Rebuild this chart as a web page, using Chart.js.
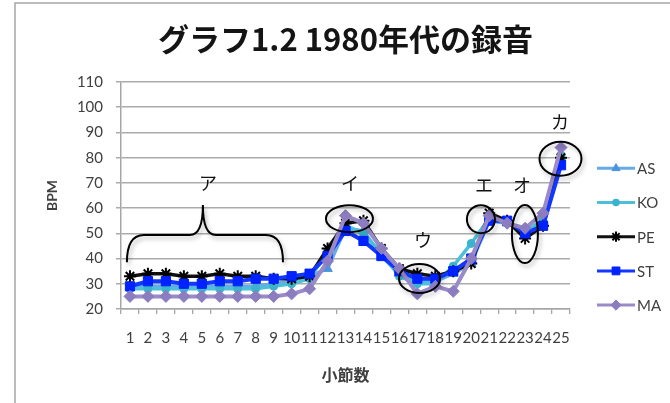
<!DOCTYPE html>
<html>
<head>
<meta charset="utf-8">
<script src="https://cdn.jsdelivr.net/npm/chart.js@4.4.1/dist/chart.umd.min.js"></script>
<style>
  html, body { margin: 0; padding: 0; background: #fff; }
  canvas { display: block; }
</style>
</head>
<body>
<canvas id="c" width="670" height="403"></canvas>
<script>
// 小節番号
const measures = ['1','2','3','4','5','6','7','8','9','10','11','12','13','14','15','16','17','18','19','20','21','22','23','24','25'];

// 各演奏のテンポ (BPM)
const AS = [29, 29, 29, 29, 29, 29, 29, 29, 30, 31, 33, 36, 52, 51, 41, 34, 31, 31, 34, 38, 55, 54, 51, 55, 80];
const KO = [28, 28, 28, 28, 28, 28, 28, 28, 29, 30, 32, 43, 53, 50, 42, 33, 30, 30, 37, 46, 56, 54, 51, 55, 81];
const PE = [33, 34, 34, 33, 33, 34, 33, 33, 32, 32, 33, 44, 54, 55, 44, 36, 34, 33, 35, 38, 58, 55, 48, 53, 80];
const ST = [29, 31, 31, 30, 30, 31, 31, 32, 32, 33, 34, 41, 51, 47, 41, 35, 32, 32, 35, 40, 55, 55, 50, 53, 77];
const MA = [25, 25, 25, 25, 25, 25, 25, 25, 25, 26, 28, 39, 57, 54, 44, 36, 26, 29, 27, 40, 57, 54, 52, 58, 84];

// 縦軸の目盛り
const yMin = 20, yMax = 110, yStep = 10;

const LATIN = 'Lato, "Noto Sans CJK JP", sans-serif';
const CJK = '"Noto Sans CJK JP", sans-serif';

// 注記 (小節インデックス, BPM)
const notes = [
  { text: 'ア', x: 4.34, y: 69.9 },
  { text: 'イ', x: 12.25, y: 69.9 },
  { text: 'ウ', x: 16.31, y: 47.3 },
  { text: 'エ', x: 19.71, y: 69.1 },
  { text: 'オ', x: 21.83, y: 69.1 },
  { text: 'カ', x: 23.95, y: 94.0 }
];
const rings = [
  { x: 12.22, y: 55.8, rx: 23.5, ry: 13.5 },
  { x: 16.12, y: 32.1, rx: 20.5, ry: 14.5 },
  { x: 19.54, y: 55.6, rx: 14, ry: 14 },
  { x: 21.99, y: 49.7, rx: 13, ry: 29 },
  { x: 23.97, y: 79.6, rx: 21, ry: 17 }
];
const brace = { from: -0.17, to: 8.52, tip: 4.06, foot: 38.5, bar: 49.3, peak: 61.2 };

// 背景と枠
const framePlugin = {
  id: 'frame',
  beforeDraw(chart) {
    const ctx = chart.ctx;
    ctx.save();
    ctx.fillStyle = '#ffffff';
    ctx.fillRect(0, 0, chart.width, chart.height);
    ctx.strokeStyle = '#a6a6a6';
    ctx.lineWidth = 1.5;
    ctx.beginPath();
    ctx.moveTo(15, chart.height);
    ctx.lineTo(15, 3);
    ctx.lineTo(chart.width, 3);
    ctx.stroke();
    ctx.restore();
  }
};

// 丸囲み・括弧・カタカナ注記
const notePlugin = {
  id: 'notes',
  afterDatasetsDraw(chart) {
    const ctx = chart.ctx;
    const xs = chart.scales.x, ys = chart.scales.y;
    const px = v => xs.getPixelForValue(v);
    const py = v => ys.getPixelForValue(v);
    ctx.save();
    ctx.strokeStyle = '#000';
    ctx.lineWidth = 2;
    ctx.shadowColor = 'rgba(0,0,0,0.28)';
    ctx.shadowBlur = 4;
    ctx.shadowOffsetX = 2;
    ctx.shadowOffsetY = 3;
    rings.forEach(r => {
      ctx.beginPath();
      ctx.ellipse(px(r.x), py(r.y), r.rx, r.ry, 0, 0, Math.PI * 2);
      ctx.stroke();
    });
    // 波括弧
    const x0 = px(brace.from), x1 = px(brace.to), xm = px(brace.tip);
    const yf = py(brace.foot), yb = py(brace.bar), yt = py(brace.peak);
    const r = 17, k = 13;
    ctx.beginPath();
    ctx.moveTo(x0, yf);
    ctx.quadraticCurveTo(x0, yb, x0 + r, yb);
    ctx.lineTo(xm - k, yb);
    ctx.quadraticCurveTo(xm, yb, xm, yt);
    ctx.quadraticCurveTo(xm, yb, xm + k, yb);
    ctx.lineTo(x1 - r, yb);
    ctx.quadraticCurveTo(x1, yb, x1, yf);
    ctx.stroke();
    ctx.shadowColor = 'transparent';
    ctx.fillStyle = '#111';
    ctx.font = '18px ' + CJK;
    ctx.textAlign = 'center';
    ctx.textBaseline = 'middle';
    notes.forEach(n => ctx.fillText(n.text, px(n.x), py(n.y)));
    ctx.restore();
  }
};

// 右側の凡例 (線+マーカー)
const legendPlugin = {
  id: 'sideLegend',
  afterDraw(chart) {
    const ctx = chart.ctx;
    const area = chart.chartArea;
    const x0 = area.right + 27, x1 = area.right + 65;
    chart.data.datasets.forEach((ds, i) => {
      const y = 168.3 + 34.2 * i;
      ctx.save();
      ctx.strokeStyle = ds.borderColor;
      ctx.lineWidth = 3;
      ctx.beginPath();
      ctx.moveTo(x0, y);
      ctx.lineTo(x1, y);
      ctx.stroke();
      ctx.fillStyle = ds.pointBackgroundColor;
      ctx.strokeStyle = ds.pointBorderColor;
      ctx.lineWidth = ds.pointBorderWidth;
      Chart.helpers.drawPoint(ctx, {
        pointStyle: ds.pointStyle, rotation: 0,
        radius: ds.pointRadius * 0.85, borderWidth: ds.pointBorderWidth
      }, (x0 + x1) / 2, y);
      ctx.fillStyle = '#404040';
      ctx.font = '15px ' + LATIN;
      ctx.textAlign = 'left';
      ctx.textBaseline = 'middle';
      ctx.fillText(ds.label, x1 + 2, y + 1);
      ctx.restore();
    });
  }
};

function series(label, data, line, mark, style, radius, order, bw) {
  return {
    label, data, order,
    borderColor: line, backgroundColor: mark,
    borderWidth: bw, tension: 0,
    pointStyle: style, pointRadius: radius,
    pointBackgroundColor: mark, pointBorderColor: mark,
    pointBorderWidth: style === 'star' ? 2 : 1,
    pointHoverRadius: radius
  };
}

new Chart(document.getElementById('c'), {
  type: 'line',
  data: {
    labels: measures,
    datasets: [
      series('AS', AS, '#66aae6', '#4d94dc', 'triangle', 5.5, 4, 3.5),
      series('KO', KO, '#4cc0d8', '#3bb3cf', 'circle', 4, 3, 3.5),
      series('PE', PE, '#111111', '#000000', 'star', 6, 2, 3.5),
      series('ST', ST, '#1238ff', '#0022ff', 'rect', 6.5, 1, 4),
      series('MA', MA, '#9a8ac8', '#8c7cc0', 'rectRot', 6, 0, 4)
    ]
  },
  options: {
    responsive: false,
    devicePixelRatio: 1,
    animation: false,
    events: [],
    layout: { padding: { left: 15, right: 100, top: 0, bottom: 0 } },
    plugins: {
      legend: { display: false },
      tooltip: { enabled: false },
      title: {
        display: true,
        text: 'グラフ1.2 1980年代の録音',
        fullSize: false,
        color: '#141414',
        font: { family: CJK, size: 31, weight: 'bold', lineHeight: 1.2 },
        padding: { top: 20.4, bottom: 24.4 }
      }
    },
    scales: {
      x: {
        type: 'category',
        offset: true,
        grid: { display: true, drawOnChartArea: false, drawTicks: true, tickLength: 5, offset: true, color: '#a6a6a6', lineWidth: 1.3 },
        border: { display: true, color: '#a6a6a6', width: 1.5 },
        ticks: { autoSkip: false, maxRotation: 0, minRotation: 0, padding: 15, color: '#404040', font: { family: LATIN, size: 15 } },
        title: { display: true, text: '小節数', color: '#404040', font: { family: CJK, size: 16, weight: 'bold', lineHeight: 1.2 }, padding: { top: 0, bottom: 18.4 } },
        afterFit(s) { s.height = 94; }
      },
      y: {
        min: yMin, max: yMax,
        grid: { color: '#ababab', lineWidth: 1.5, drawTicks: true, tickLength: 5 },
        border: { display: true, color: '#a6a6a6', width: 1.5 },
        ticks: { stepSize: yStep, padding: 13, color: '#404040', font: { family: LATIN, size: 15 } },
        title: { display: true, text: 'BPM', color: '#404040', font: { family: LATIN, size: 14, weight: 'bold', lineHeight: 1.2 }, padding: { top: 28.6, bottom: 0 } },
        afterFit(s) { s.width = 106; }
      }
    }
  },
  plugins: [framePlugin, notePlugin, legendPlugin]
});
</script>
</body>
</html>
